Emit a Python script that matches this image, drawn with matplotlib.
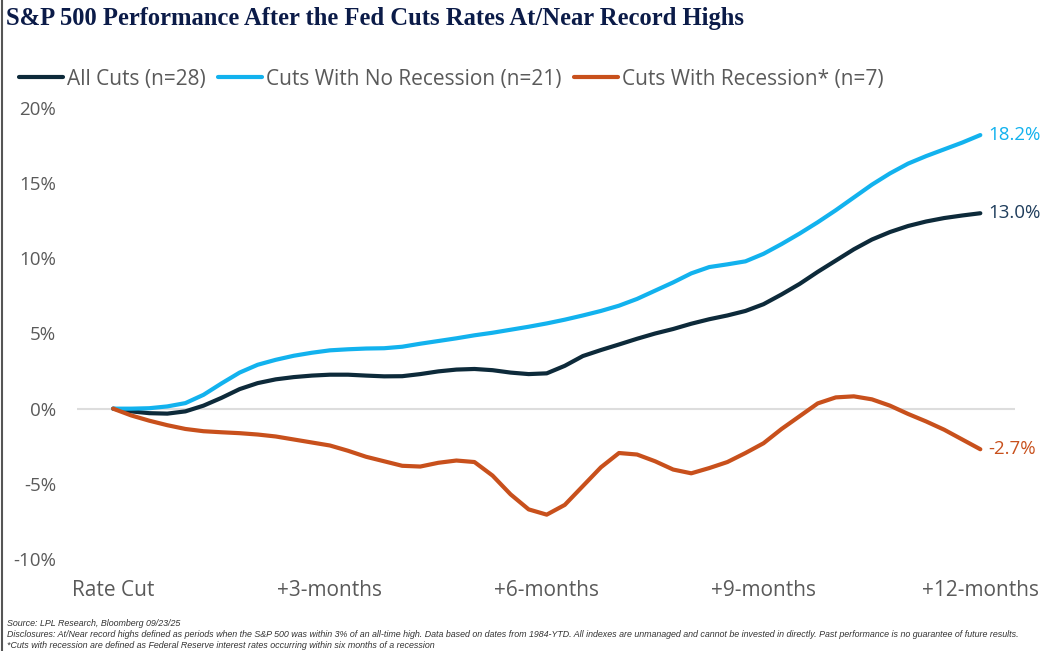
import matplotlib
matplotlib.use('Agg')
import matplotlib.pyplot as plt
from matplotlib.lines import Line2D

# quarter-month steps from the rate cut out to +12 months
months = [i * 0.25 for i in range(49)]

all_cuts = [0.0, -0.18, -0.3, -0.33, -0.18, 0.2, 0.72, 1.3, 1.7, 1.95, 2.1, 2.2, 2.26,
            2.26, 2.2, 2.15, 2.16, 2.3, 2.48, 2.6, 2.64, 2.56, 2.4, 2.3, 2.35,
            2.85, 3.5, 3.9, 4.27, 4.65, 5.0, 5.3, 5.65, 5.95, 6.2, 6.5, 6.95,
            7.6, 8.3, 9.1, 9.85, 10.6, 11.25, 11.75, 12.15, 12.45, 12.68, 12.85, 13.0]
no_recession = [0.0, 0.0, 0.03, 0.15, 0.37, 0.92, 1.68, 2.4, 2.92, 3.25, 3.52, 3.72, 3.88,
                3.95, 4.0, 4.02, 4.12, 4.32, 4.5, 4.68, 4.88, 5.05, 5.25, 5.45, 5.67,
                5.92, 6.2, 6.5, 6.85, 7.3, 7.85, 8.4, 9.0, 9.42, 9.6, 9.8, 10.3,
                10.95, 11.65, 12.4, 13.2, 14.05, 14.9, 15.65, 16.3, 16.8, 17.25, 17.7, 18.2]
recession = [0.0, -0.45, -0.8, -1.1, -1.35, -1.5, -1.57, -1.63, -1.72, -1.85, -2.05, -2.25, -2.45,
             -2.8, -3.2, -3.5, -3.8, -3.85, -3.6, -3.45, -3.55, -4.45, -5.7, -6.7, -7.05,
             -6.4, -5.15, -3.9, -2.95, -3.05, -3.5, -4.05, -4.3, -3.95, -3.55, -2.95, -2.3,
             -1.35, -0.5, 0.35, 0.75, 0.82, 0.62, 0.2, -0.35, -0.85, -1.4, -2.05, -2.7]

series_names = ['All Cuts (n=28)', 'Cuts With No Recession (n=21)', 'Cuts With Recession* (n=7)']
end_labels = ['13.0%', '18.2%', '-2.7%']

x_ticks = [0, 3, 6, 9, 12]
x_tick_labels = ['Rate Cut', '+3-months', '+6-months', '+9-months', '+12-months']
y_ticks = [-10, -5, 0, 5, 10, 15, 20]

NAVY = '#0d2a3a'
SKY = '#12b2ee'
RUST = '#c8501c'
GREY = '#5a5a5a'

plt.rcParams['font.family'] = ['Open Sans', 'DejaVu Sans']

fig = plt.figure(figsize=(10.46, 6.51), dpi=100)
ax = fig.add_axes([77 / 1046, 1 - 559 / 651, (1015 - 77) / 1046, (559 - 108) / 651])

ax.axhline(0, color='#dddddd', lw=1.5, zorder=1)

lines = []
for values, color in zip([all_cuts, no_recession, recession], [NAVY, SKY, RUST]):
    ln, = ax.plot(months, values, color=color, lw=3, solid_capstyle='round',
                  solid_joinstyle='round', zorder=3)
    lines.append(ln)

label_colors = ['#1f3d5c', SKY, RUST]
for values, text, color in zip([all_cuts, no_recession, recession], end_labels, label_colors):
    ax.annotate(text, (months[-1], values[-1]), xytext=(6, 0), textcoords='offset points',
                va='center', ha='left', fontsize=13.5, color=color, annotation_clip=False)

ax.set_xlim(-0.5, 12.48)
ax.set_ylim(-10, 20)
ax.set_xticks(x_ticks)
ax.set_xticklabels(x_tick_labels)
ax.set_yticks(y_ticks)
ax.set_yticklabels([f'{v}%' for v in y_ticks])
ax.tick_params(axis='both', length=0, labelcolor=GREY)
ax.tick_params(axis='y', pad=15, labelsize=13.5)
ax.tick_params(axis='x', pad=15, labelsize=15)
for spine in ax.spines.values():
    spine.set_visible(False)

fig.legend(lines, series_names, loc='center left', bbox_to_anchor=(19 / 1046, 1 - 79 / 651),
           ncol=3, frameon=False, fontsize=15, handlelength=2.1, handletextpad=0.2,
           columnspacing=0.6, labelcolor=GREY, borderaxespad=0, borderpad=0)

fig.text(6 / 1046, 1 - 18 / 651, 'S&P 500 Performance After the Fed Cuts Rates At/Near Record Highs',
         family=['Liberation Serif', 'DejaVu Serif'], weight='bold', fontsize=17.7,
         color='#0b1b48', va='center', ha='left')

foot_font = ['Liberation Sans', 'DejaVu Sans']
footnotes = [
    'Source: LPL Research, Bloomberg 09/23/25',
    'Disclosures: At/Near record highs defined as periods when the S&P 500 was within 3% of an all-time high. '
    'Data based on dates from 1984-YTD. All indexes are unmanaged and cannot be invested in directly. '
    'Past performance is no guarantee of future results.',
    '*Cuts with recession are defined as Federal Reserve interest rates occurring within six months of a recession',
]
for i, note in enumerate(footnotes):
    fig.text(7 / 1046, 1 - (623 + 11.5 * i) / 651, note, family=foot_font, style='italic',
             fontsize=6.4, color='#333333', va='center', ha='left')

fig.add_artist(Line2D([1.5 / 1046, 1.5 / 1046], [0, 1], color='#555555', lw=1.5,
                      transform=fig.transFigure))

fig.savefig('out.png', dpi=100)
